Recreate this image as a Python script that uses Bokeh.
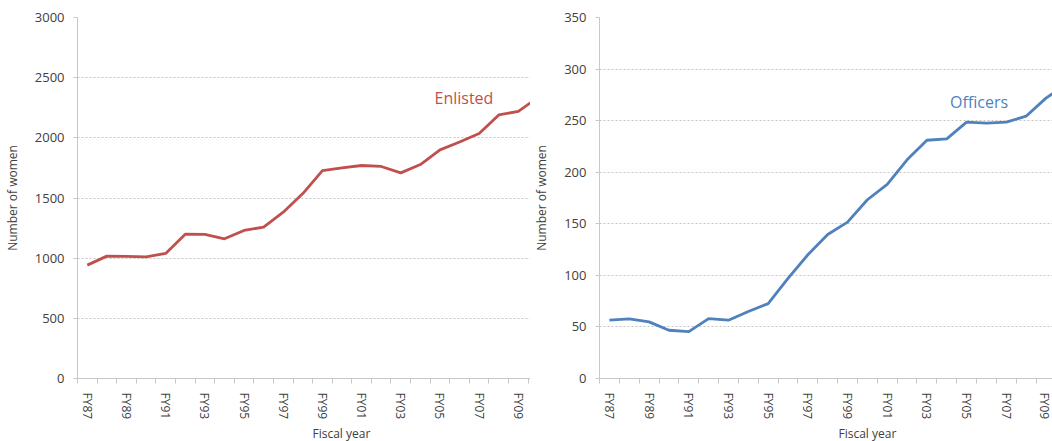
from bokeh.plotting import figure
from bokeh.layouts import row
from bokeh.models import FixedTicker, Title, Label, Range1d
from bokeh.embed import file_html
from bokeh.resources import INLINE

# ---- data ----
years = ["FY87", "FY88", "FY89", "FY90", "FY91", "FY92", "FY93", "FY94", "FY95", "FY96",
         "FY97", "FY98", "FY99", "FY00", "FY01", "FY02", "FY03", "FY04", "FY05", "FY06",
         "FY07", "FY08", "FY09", "FY10"]
enlisted = [942, 1017, 1015, 1010, 1039, 1199, 1197, 1161, 1230, 1258,
            1382, 1537, 1728, 1751, 1770, 1762, 1709, 1778, 1900, 1965,
            2036, 2190, 2220, 2335]
officers = [56.5, 57.8, 54.9, 46.8, 45.5, 58.0, 56.5, 65.0, 72.6, 97.0,
            120.0, 139.6, 151.6, 173.3, 188.3, 212.0, 231.0, 232.3, 248.5, 247.5,
            248.5, 254.3, 271.8, 285.0]

FONT = "Open Sans"
GREY = "#404040"
AXIS = "#c8c8c8"


def make_panel(values, color, ymax, ystep, xend, width, border_left, border_right,
               name, name_x, name_y, title_offset):
    idx = list(range(len(values)))
    p = figure(width=width, height=441, output_backend="svg", toolbar_location=None,
               x_range=Range1d(-0.5, xend), y_range=Range1d(0, ymax),
               min_border_left=border_left, min_border_right=border_right,
               min_border_top=17, min_border_bottom=63)
    p.outline_line_color = None
    p.background_fill_color = "white"
    p.border_fill_color = "white"

    p.line(idx, values, line_color=color, line_width=2.8, line_join="round")

    # x axis
    xa = p.xaxis[0]
    major = list(range(0, 23, 2))
    xa.ticker = FixedTicker(ticks=major, minor_ticks=[i - 0.5 for i in range(24)])
    xa.major_label_overrides = {i: years[i] for i in major}
    xa.major_label_orientation = "vertical"
    xa.major_tick_line_color = None
    xa.major_tick_out = 0
    xa.major_tick_in = 0
    xa.minor_tick_out = 5
    xa.minor_tick_in = 0
    xa.minor_tick_line_color = AXIS
    xa.axis_line_color = AXIS
    xa.major_label_standoff = 9
    xa.major_label_text_font = FONT
    xa.major_label_text_font_size = "12px"
    xa.major_label_text_color = GREY

    # y axis
    ya = p.yaxis[0]
    ya.ticker = FixedTicker(ticks=list(range(0, ymax + 1, ystep)))
    ya.axis_line_color = AXIS
    ya.major_tick_line_color = AXIS
    ya.major_tick_out = 4
    ya.major_tick_in = 0
    ya.minor_tick_line_color = None
    ya.major_label_standoff = 9
    ya.major_label_text_font = FONT
    ya.major_label_text_font_size = "13px"
    ya.major_label_text_color = GREY
    ya.axis_label = "Number of women"
    ya.axis_label_text_font = FONT
    ya.axis_label_text_font_size = "12px"
    ya.axis_label_text_font_style = "normal"
    ya.axis_label_text_color = GREY
    ya.axis_label_standoff = 11

    p.xgrid.grid_line_color = None
    p.ygrid.grid_line_color = "#c4c4c4"
    p.ygrid.grid_line_dash = "2 2"
    p.ygrid.grid_line_width = 1

    t = Title(text="Fiscal year", align="left", offset=title_offset,
              text_font=FONT, text_font_size="12px", text_font_style="normal",
              text_color=GREY, standoff=0)
    p.add_layout(t, "below")

    p.add_layout(Label(x=name_x, y=name_y, text=name, text_align="left",
                       text_baseline="middle", text_font=FONT,
                       text_font_size="16px", text_color=color))
    return p


left = make_panel(enlisted, "#C0504D", 3000, 500, 22.62, 530, 76, 0,
                  "Enlisted", 17.72, 2334, 235)
right = make_panel(officers, "#4F81BD", 350, 50, 22.33, 522, 67, 0,
                   "Officers", 17.17, 268, 239)

layout = row(left, right)
open("out.html", "w").write(file_html(layout, INLINE))
